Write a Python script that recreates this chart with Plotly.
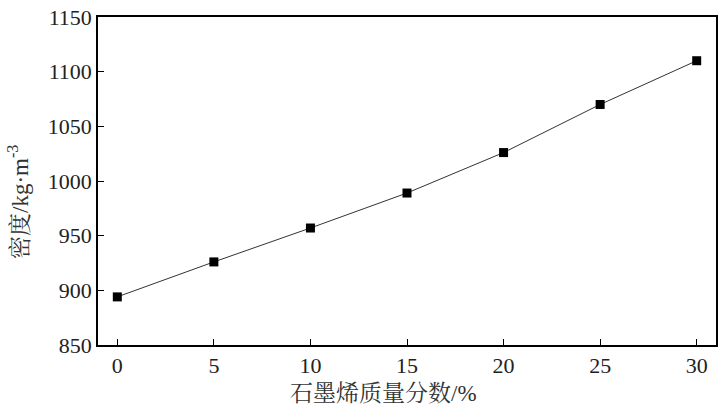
import plotly.graph_objects as go

graphene_pct = [0, 5, 10, 15, 20, 25, 30]
density = [894, 926, 957, 989, 1026, 1070, 1110]
x_ticks = [0, 5, 10, 15, 20, 25, 30]
y_ticks = [850, 900, 950, 1000, 1050, 1100, 1150]
x_title = "石墨烯质量分数/%"
y_title = "密度/kg·m<sup>-3</sup>"

font_family = "Liberation Serif, Times New Roman, Noto Serif CJK SC, Noto Sans CJK SC, serif"

fig = go.Figure()
fig.add_trace(go.Scatter(
    x=graphene_pct, y=density, mode="lines+markers",
    line=dict(color="#333333", width=1),
    marker=dict(symbol="square", size=9, color="black"),
    showlegend=False,
))

axis_common = dict(
    showline=True, linecolor="black", linewidth=1.5, mirror=True,
    ticks="inside", ticklen=6, tickwidth=1, tickcolor="black",
    showgrid=False, zeroline=False, automargin=False,
    tickfont=dict(family=font_family, size=22, color="#222"),
)

fig.update_xaxes(range=[-1, 31], tickvals=x_ticks, **axis_common)
fig.update_yaxes(range=[850, 1150], tickvals=y_ticks, **axis_common)

fig.add_annotation(text=x_title, xref="paper", yref="paper", x=0.462, y=0,
                   yshift=-48, xanchor="center", yanchor="middle", showarrow=False,
                   font=dict(family=font_family, size=23, color="#333"))
fig.add_annotation(text=y_title, xref="paper", yref="paper", x=0, y=0.436,
                   xshift=-79, xanchor="center", yanchor="middle", showarrow=False,
                   textangle=-90, font=dict(family=font_family, size=23, color="#333"))

fig.update_layout(
    width=728, height=413,
    margin=dict(l=98, r=12, t=17, b=68),
    paper_bgcolor="white", plot_bgcolor="white",
)

fig.write_html("out.html", config={"displayModeBar": False},
               post_script="document.body.style.margin='0';")
